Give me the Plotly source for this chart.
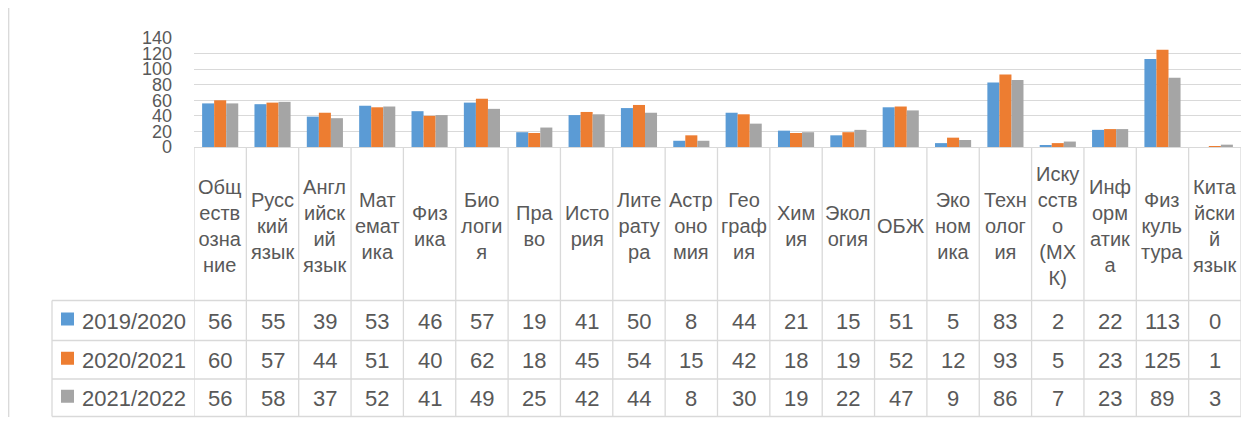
import plotly.graph_objects as go

# ---- data ----
subjects = ["Обществознание", "Русский язык", "Английский язык", "Математика", "Физика",
            "Биология", "Право", "История", "Литература", "Астрономия", "География",
            "Химия", "Экология", "ОБЖ", "Экономика", "Технология", "Искусство (МХК)",
            "Информатика", "Физкультура", "Китайский язык"]
header_labels = ["Общ<br>еств<br>озна<br>ние", "Русс<br>кий<br>язык", "Англ<br>ийск<br>ий<br>язык",
                 "Мат<br>емат<br>ика", "Физ<br>ика", "Био<br>логи<br>я", "Пра<br>во", "Исто<br>рия",
                 "Лите<br>рату<br>ра", "Астр<br>оно<br>мия", "Гео<br>граф<br>ия", "Хим<br>ия",
                 "Экол<br>огия", "ОБЖ", "Эко<br>ном<br>ика", "Техн<br>олог<br>ия",
                 "Иску<br>сств<br>о<br>(МХ<br>К)", "Инф<br>орм<br>атик<br>а", "Физ<br>куль<br>тура",
                 "Кита<br>йски<br>й<br>язык"]
series_names = ["2019/2020", "2020/2021", "2021/2022"]
y2019 = [56, 55, 39, 53, 46, 57, 19, 41, 50, 8, 44, 21, 15, 51, 5, 83, 2, 22, 113, 0]
y2020 = [60, 57, 44, 51, 40, 62, 18, 45, 54, 15, 42, 18, 19, 52, 12, 93, 5, 23, 125, 1]
y2021 = [56, 58, 37, 52, 41, 49, 25, 42, 44, 8, 30, 19, 22, 47, 9, 86, 7, 23, 89, 3]
series_values = [y2019, y2020, y2021]
y_ticks = [0, 20, 40, 60, 80, 100, 120, 140]

# ---- style ----
colors = ["#5B9BD5", "#ED7D31", "#A5A5A5"]
OFF = 8  # page body margin
W, H = 1256 - OFF, 421 - OFF
ML, MR, MT, MB = 194 - OFF, 15, 38 - OFF, 274
GRID = "#D9D9D9"
TXT = "#595959"
FONT = "Liberation Sans, Arial, sans-serif"


def py(y):
    """page pixel y -> paper fraction"""
    return (H - MB - (y - OFF)) / (H - MT - MB)


def px(x):
    """page pixel x -> paper fraction"""
    return ((x - OFF) - ML) / (W - ML - MR)


xidx = list(range(len(subjects)))

fig = go.Figure()
for name, vals, c in zip(series_names, series_values, colors):
    fig.add_trace(go.Bar(x=xidx, y=vals, name=name, marker=dict(color=c, line=dict(width=0)),
                         hovertext=subjects, showlegend=False))

shapes = []
annotations = []

# left border of chart area
shapes.append(dict(type="line", xref="paper", yref="paper", x0=px(8.7), x1=px(8.7), y0=py(0), y1=py(417),
                   line=dict(color=GRID, width=1.3)))

# table vertical lines at category boundaries
for i in range(len(subjects) + 1):
    shapes.append(dict(type="line", xref="x", yref="paper", x0=i - 0.5, x1=i - 0.5,
                       y0=py(147), y1=py(416.5), line=dict(color=GRID, width=1.3)))
# legend column left border
shapes.append(dict(type="line", xref="paper", yref="paper", x0=px(52), x1=px(52),
                   y0=py(300.5), y1=py(416.5), line=dict(color=GRID, width=1.3)))
# horizontal row lines
row_edges = [300.5, 340.5, 379, 416.5]
for y in row_edges:
    shapes.append(dict(type="line", xref="paper", yref="paper", x0=px(52), x1=1,
                       y0=py(y), y1=py(y), line=dict(color=GRID, width=1.3)))

# header labels
for i, lab in enumerate(header_labels):
    annotations.append(dict(x=i, y=py(226), xref="x", yref="paper", text=lab, showarrow=False,
                            xanchor="center", yanchor="middle", align="center",
                            font=dict(family=FONT, size=20, color=TXT)))

# table rows
row_centers = [(row_edges[k] + row_edges[k + 1]) / 2 for k in range(3)]
for name, vals, c, yc in zip(series_names, series_values, colors, row_centers):
    shapes.append(dict(type="rect", xref="paper", yref="paper", x0=px(61), x1=px(74),
                       y0=py(yc + 5), y1=py(yc - 8), fillcolor=c, line=dict(width=0)))
    annotations.append(dict(x=px(80), y=py(yc + 1), xref="paper", yref="paper", text=name,
                            showarrow=False, xanchor="left", yanchor="middle",
                            font=dict(family=FONT, size=22, color=TXT)))
    for i, v in enumerate(vals):
        annotations.append(dict(x=i, y=py(yc + 1), xref="x", yref="paper", text=str(v),
                                showarrow=False, xanchor="center", yanchor="middle",
                                font=dict(family=FONT, size=22, color=TXT)))

fig.update_layout(
    width=W, height=H,
    margin=dict(l=ML, r=MR, t=MT, b=MB, autoexpand=False),
    paper_bgcolor="white", plot_bgcolor="white",
    barmode="group", bargap=0.31, bargroupgap=0,
    font=dict(family=FONT, color=TXT),
    xaxis=dict(range=[-0.5, len(subjects) - 0.5], showticklabels=False, showgrid=False,
               zeroline=False, showline=True, linecolor=GRID, linewidth=1.3, ticks=""),
    yaxis=dict(range=[0, 140], tickmode="array", tickvals=y_ticks, ticktext=[str(t) for t in y_ticks],
               showgrid=True, gridcolor=GRID, gridwidth=1.3, zeroline=False, showline=False,
               ticks="", ticklabelstandoff=21, tickfont=dict(family=FONT, size=18, color=TXT)),
    shapes=shapes,
    annotations=annotations,
)

fig.write_html("out.html")
